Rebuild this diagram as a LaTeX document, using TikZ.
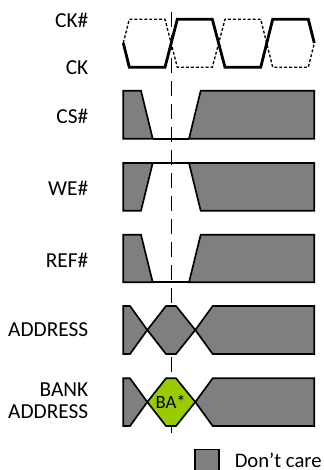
\documentclass[tikz,border=0pt]{standalone}
\usepackage{fontspec}
\setmainfont{Carlito}
\definecolor{dc}{RGB}{127,127,127}
\definecolor{ba}{RGB}{153,204,0}
\tikzset{
  wave/.style={draw=black,line width=1.25pt,fill=dc,line join=miter},
  clkmain/.style={draw=black,line width=2.1pt,line join=miter},
  clkalt/.style={draw=black,line width=1pt,dash pattern=on 2.2pt off 1.5pt},
  lab/.style={font=\fontsize{16pt}{16.5pt}\selectfont,align=right,inner sep=0pt,anchor=east},
  refline/.style={draw=black,line width=1.2pt,dash pattern=on 11.25pt off 6pt}
}
\begin{document}
\begin{tikzpicture}[x=0.75pt,y=-0.75pt]
\useasboundingbox (0,0) rectangle (324,470);
% labels
\node[lab] (ckn) at (88.5,20) {CK\#};
\node[lab] (ck) at (88.5,68) {CK};
\node[lab] (cs) at (88.5,116) {CS\#};
\node[lab] (we) at (88.5,188) {WE\#};
\node[lab] (rf) at (88.5,260) {REF\#};
\node[lab] (addr) at (88.5,330) {ADDRESS};
\node[lab] (bank) at (88.5,401) {BANK\\ADDRESS};
% reference line
\coordinate (rtop) at (171.4,12.3);
\coordinate (rbot) at (171.4,433);
\draw[refline] (rtop) -- (rbot);
% clocks
\draw[clkalt] (123.3,43) -- (129.3,19.3) -- (165,19.3) -- (177.3,67.3) -- (212.3,67.3) -- (225,19.3) -- (260.7,19.3) -- (272.7,67.3) -- (308.3,67.3) -- (314.3,43);
\draw[clkmain] (123.3,43) -- (129.3,67.3) -- (165,67.3) -- (177.3,19.3) -- (212.3,19.3) -- (225,67.3) -- (260.7,67.3) -- (272.7,19.3) -- (308.3,19.3) -- (314.3,43);
% CS#
\draw[wave] (123.3,90.7) -- (141,90.7) -- (152.7,138.7) -- (123.3,138.7) -- cycle;
\draw[wave] (314.3,90.7) -- (200.7,90.7) -- (189,138.7) -- (314.3,138.7) -- cycle;
\draw[wave] (152.7,138.7) -- (189,138.7);
% WE#
\draw[wave] (123.3,210.7) -- (141,210.7) -- (152.7,163) -- (123.3,163) -- cycle;
\draw[wave] (314.3,210.7) -- (200.7,210.7) -- (189,163) -- (314.3,163) -- cycle;
\draw[wave] (152.7,163) -- (189,163);
% REF#
\draw[wave] (123.3,234.7) -- (141,234.7) -- (152.7,282.3) -- (123.3,282.3) -- cycle;
\draw[wave] (314.3,234.7) -- (200.7,234.7) -- (189,282.3) -- (314.3,282.3) -- cycle;
\draw[wave] (152.7,282.3) -- (189,282.3);
% ADDRESS
\draw[wave] (123.3,306) -- (130,306) -- (147.3,330) -- (130,354) -- (123.3,354) -- cycle;
\draw[wave] (147.3,330) -- (166,306) -- (176,306) -- (195.3,330) -- (176,354) -- (166,354) -- cycle;
\draw[wave] (195.3,330) -- (212.7,306) -- (314.3,306) -- (314.3,354) -- (212.7,354) -- cycle;
% BANK
\draw[wave] (123.3,378.3) -- (130,378.3) -- (147.3,402) -- (130,426) -- (123.3,426) -- cycle;
\draw[wave,fill=ba] (147.3,402) -- (166,378.3) -- (176,378.3) -- (195.3,402) -- (176,426) -- (166,426) -- cycle;
\draw[wave] (195.3,402) -- (212.7,378.3) -- (314.3,378.3) -- (314.3,426) -- (212.7,426) -- cycle;
\node[font=\fontsize{14pt}{15pt}\selectfont,inner sep=0pt] (banode) at (170.7,402) {BA*};
% legend
\draw[wave] (195,449.5) rectangle (219.3,474);
\node[font=\fontsize{15.5pt}{16pt}\selectfont,inner sep=0pt,anchor=west] (dc) at (234.5,460.5) {Don’t care};
\end{tikzpicture}
\end{document}
